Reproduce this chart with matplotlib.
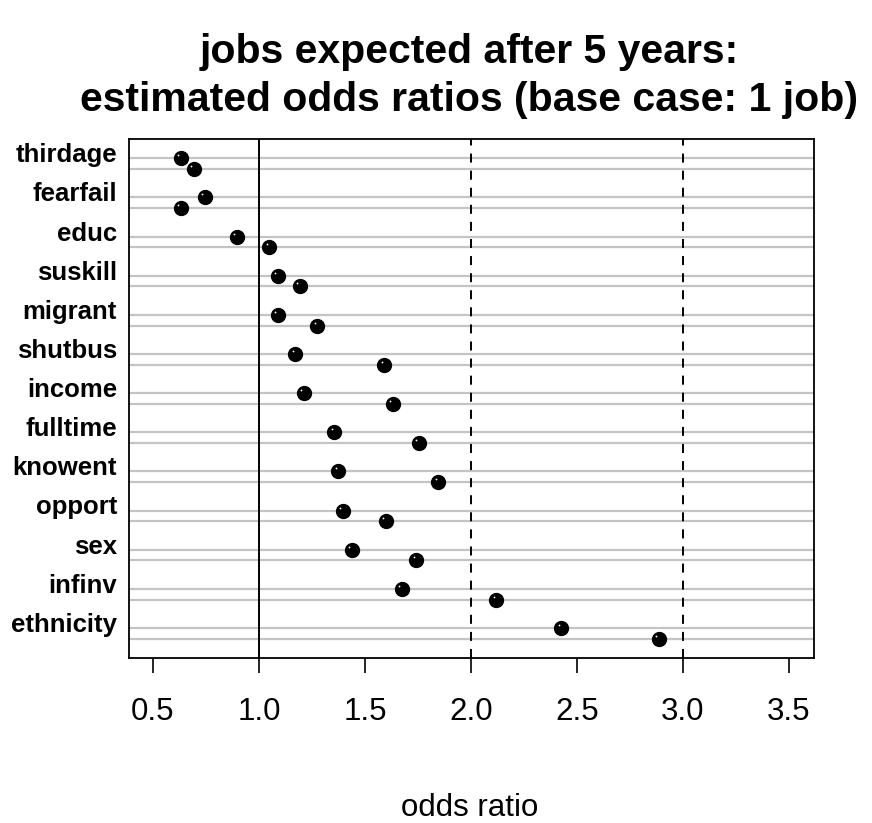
import matplotlib
matplotlib.use("Agg")
import matplotlib.pyplot as plt
import matplotlib.transforms as mtransforms

plt.rcParams["font.family"] = ["Liberation Sans", "DejaVu Sans"]
plt.rcParams["lines.scale_dashes"] = False

# Predictors, top to bottom
categories = ["thirdage", "fearfail", "educ", "suskill", "migrant", "shutbus",
              "income", "fulltime", "knowent", "opport", "sex", "infinv", "ethnicity"]
# Odds ratios for the two outcome levels (upper and lower row of each predictor)
odds_upper = [0.630, 0.744, 0.895, 1.089, 1.089, 1.171, 1.212, 1.356, 1.375,
              1.395, 1.438, 1.673, 2.426]
odds_lower = [0.693, 0.630, 1.049, 1.193, 1.276, 1.591, 1.632, 1.753, 1.845,
              1.599, 1.742, 2.120, 2.886]
x_ticks = [0.5, 1.0, 1.5, 2.0, 2.5, 3.0, 3.5]
x_tick_labels = ["0.5", "1.0", "1.5", "2.0", "2.5", "3.0", "3.5"]
ref_solid = 1.0
ref_dashed = [2.0, 3.0]

W, H, DPI = 872, 823, 100
fig = plt.figure(figsize=(W / DPI, H / DPI), dpi=DPI)
ax = fig.add_axes([129 / W, 1 - 658 / H, (814 - 129) / W, (658 - 139) / H])

row_gap = 0.275
y_up = [i for i in range(len(categories))]
y_lo = [i + row_gap for i in range(len(categories))]

for y in y_up + y_lo:
    ax.axhline(y, color="#c4c4c4", lw=1.6, zorder=1)

ax.axvline(ref_solid, color="black", lw=1.4, zorder=2)
for xv in ref_dashed:
    ax.axvline(xv, color="black", lw=1.4, dashes=(6.5, 5.8), zorder=2)

ax.plot(odds_upper, y_up, "o", color="black", ms=10, zorder=3, ls="none")
ax.plot(odds_lower, y_lo, "o", color="black", ms=10, zorder=3, ls="none")

# small specular highlight on each dot
hl = mtransforms.offset_copy(ax.transData, fig=fig, x=-2.5, y=3, units="dots")
ax.plot(odds_upper, y_up, "o", color="white", ms=1.3, mew=0, zorder=4, ls="none", transform=hl)
ax.plot(odds_lower, y_lo, "o", color="white", ms=1.3, mew=0, zorder=4, ls="none", transform=hl)

ax.set_xlim(0.387, 3.618)
ax.set_ylim(len(categories) - 1 + row_gap + 0.494, -0.494)

ax.set_xticks(x_ticks)
ax.set_xticklabels(x_tick_labels, fontsize=22.5)
ax.tick_params(axis="x", length=11, width=1.2, pad=17, direction="out")
ax.set_yticks([])

for s in ax.spines.values():
    s.set_linewidth(1.3)

lbl_tr = mtransforms.blended_transform_factory(ax.transAxes, ax.transData)
for name, y in zip(categories, y_up):
    ax.text(-0.0175, y + 0.1, name, transform=lbl_tr, ha="right", va="baseline",
            fontsize=18.5, fontweight="bold")

fig.text(469 / W, 1 - 52 / H, "jobs expected after 5 years:", ha="center", va="center",
         fontsize=29.5, fontweight="bold")
fig.text(469 / W, 1 - 100 / H, "estimated odds ratios (base case: 1 job)", ha="center",
         va="center", fontsize=29.5, fontweight="bold")
fig.text(470 / W, 1 - 816 / H, "odds ratio", ha="center", va="baseline", fontsize=22.5)

fig.savefig("out.png", dpi=DPI, facecolor="white")
